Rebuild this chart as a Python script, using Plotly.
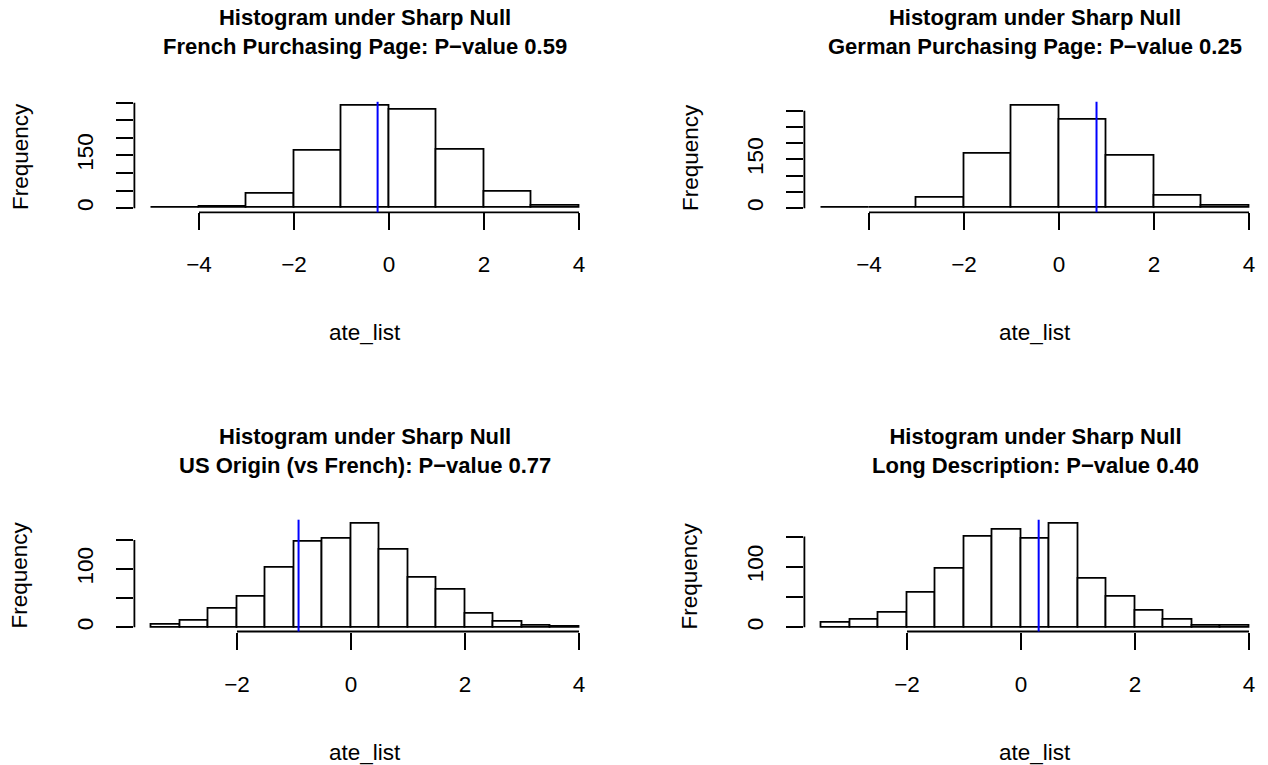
import plotly.graph_objects as go

# ---- data ----
titles = [
    "Histogram under Sharp Null<br>French Purchasing Page: P\u2212value 0.59",
    "Histogram under Sharp Null<br>German Purchasing Page: P\u2212value 0.25",
    "Histogram under Sharp Null<br>US Origin (vs French): P\u2212value 0.77",
    "Histogram under Sharp Null<br>Long Description: P\u2212value 0.40",
]
breaks_top = [-5, -4, -3, -2, -1, 0, 1, 2, 3, 4]
breaks_bottom = [-3.5, -3, -2.5, -2, -1.5, -1, -0.5, 0, 0.5, 1, 1.5, 2, 2.5, 3, 3.5, 4]

counts_french = [1, 4, 40, 164, 291, 279, 166, 47, 7]
counts_german = [1, 2, 32, 167, 315, 272, 161, 37, 6]
counts_us = [4, 11, 32, 53, 102, 148, 152, 178, 134, 85, 65, 23, 10, 3, 2]
counts_long = [7, 13, 24, 58, 97, 150, 162, 147, 171, 80, 51, 27, 12, 2, 2]

observed = [-0.24, 0.79, -0.92, 0.31]

xticks_top = [-4, -2, 0, 2, 4]
xticks_bottom = [-2, 0, 2, 4]
yticks_top = [0, 50, 100, 150, 200, 250, 300]
yticklabels_top = ["0", "", "", "150", "", "", ""]
yticks_bottom = [0, 50, 100, 150]
yticklabels_bottom = ["0", "", "100", ""]

panels = [
    (breaks_top, counts_french, xticks_top, yticks_top, yticklabels_top),
    (breaks_top, counts_german, xticks_top, yticks_top, yticklabels_top),
    (breaks_bottom, counts_us, xticks_bottom, yticks_bottom, yticklabels_bottom),
    (breaks_bottom, counts_long, xticks_bottom, yticks_bottom, yticklabels_bottom),
]

# ---- layout geometry ----
W, H = 1268, 765
xdoms = [[134.4 / W, 596.1 / W], [804.4 / W, 1266.1 / W]]
ydoms = [[(H - 212.3) / H, (H - 101.8) / H], [(H - 631.5) / H, (H - 519.7) / H]]

FONT = "Liberation Sans, Arial, Helvetica, sans-serif"
AX_SIZE = 22.5
TITLE_SIZE = 22
LW = 1.8

fig = go.Figure()
layout = dict(
    width=W, height=H, margin=dict(l=0, r=0, t=0, b=0),
    paper_bgcolor="white", plot_bgcolor="white", showlegend=False,
    font=dict(family=FONT, size=AX_SIZE, color="black"),
)
shapes = []
annotations = []

for i, (brks, cnts, xt, yt, ytl) in enumerate(panels):
    row, col = divmod(i, 2)
    n = i + 1
    xa = "x" if n == 1 else f"x{n}"
    ya = "y" if n == 1 else f"y{n}"
    centers = [(brks[k] + brks[k + 1]) / 2 for k in range(len(cnts))]
    widths = [brks[k + 1] - brks[k] for k in range(len(cnts))]
    fig.add_trace(go.Bar(
        x=centers, y=cnts, width=widths, xaxis=xa, yaxis=ya,
        marker=dict(color="white", line=dict(color="black", width=LW)),
        hoverinfo="x+y",
    ))
    span = brks[-1] - brks[0]
    xr = [brks[0] - 0.04 * span, brks[-1] + 0.04 * span]
    ymax = max(cnts)
    yr = [-0.04 * ymax, 1.04 * ymax]
    key_x = "xaxis" if n == 1 else f"xaxis{n}"
    key_y = "yaxis" if n == 1 else f"yaxis{n}"
    layout[key_x] = dict(
        domain=xdoms[col], range=xr, anchor=ya, showgrid=False, zeroline=False,
        showline=False, ticks="outside", ticklen=17, tickwidth=LW, tickcolor="black",
        tickvals=xt, ticktext=[str(v).replace("-", "\u2212") for v in xt],
        tickfont=dict(size=AX_SIZE), ticklabelstandoff=15, fixedrange=True,
    )
    layout[key_y] = dict(
        domain=ydoms[row], range=yr, anchor=xa, showgrid=False, zeroline=False,
        showline=False, ticks="outside", ticklen=17, tickwidth=LW, tickcolor="black",
        tickvals=yt, ticktext=ytl, tickangle=-90,
        tickfont=dict(size=AX_SIZE), ticklabelstandoff=14, fixedrange=True,
    )
    # R-style axis lines spanning first to last tick
    shapes.append(dict(type="line", xref=xa, yref=f"{ya} domain", x0=xt[0], x1=xt[-1],
                       y0=0, y1=0, line=dict(color="black", width=LW)))
    shapes.append(dict(type="line", xref=f"{xa} domain", yref=ya, x0=0, x1=0,
                       y0=yt[0], y1=yt[-1], line=dict(color="black", width=LW)))
    # observed statistic
    shapes.append(dict(type="line", xref=xa, yref=f"{ya} domain", x0=observed[i], x1=observed[i],
                       y0=0, y1=1, line=dict(color="blue", width=2)))
    xc = (xdoms[col][0] + xdoms[col][1]) / 2
    yc = (ydoms[row][0] + ydoms[row][1]) / 2
    title_y = [(H - 32) / H, (H - 451) / H][row]
    xlab_y = [(H - 332.5) / H, (H - 752) / H][row]
    ylab_x = [20 / W, 690 / W][col]
    annotations.append(dict(text=f"<b>{titles[i]}</b>", xref="paper", yref="paper",
                            x=xc, y=title_y, xanchor="center", yanchor="middle",
                            showarrow=False, font=dict(size=TITLE_SIZE, family=FONT)))
    annotations.append(dict(text="ate_list", xref="paper", yref="paper", x=xc, y=xlab_y,
                            xanchor="center", yanchor="middle", showarrow=False,
                            font=dict(size=AX_SIZE, family=FONT)))
    annotations.append(dict(text="Frequency", xref="paper", yref="paper", x=ylab_x, y=yc,
                            xanchor="center", yanchor="middle", showarrow=False, textangle=-90,
                            font=dict(size=AX_SIZE, family=FONT)))

layout["shapes"] = shapes
layout["annotations"] = annotations
layout["bargap"] = 0
fig.update_layout(**layout)
fig.write_html(
    "out.html",
    config={"displayModeBar": False},
    post_script="document.body.style.margin='0';document.body.style.padding='0';"
                "document.body.style.overflow='hidden';",
)
